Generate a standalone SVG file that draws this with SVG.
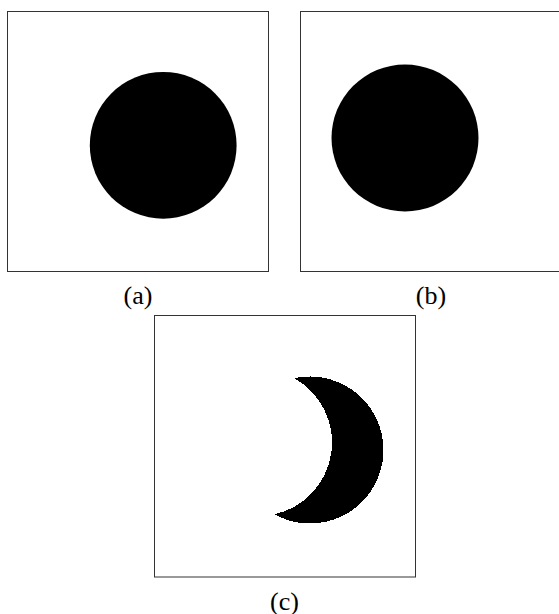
<svg xmlns="http://www.w3.org/2000/svg" width="559" height="614" viewBox="0 0 559 614">
<style>
.frame{fill:#fff;stroke:#333;stroke-width:1}
.blob{fill:#000}
.lbl{font-family:"Liberation Serif","Times New Roman",serif;font-size:26px;fill:#000;text-anchor:middle}
</style>
<rect width="559" height="614" fill="#fff"/>
<g id="panel-a">
<rect class="frame" x="7.5" y="11.5" width="261" height="260"/>
<circle class="blob" cx="163.2" cy="145.3" r="73.4"/>
<text class="lbl" x="138" y="303.5">(a)</text>
</g>
<g id="panel-b">
<rect class="frame" x="300.5" y="11.5" width="261" height="260"/>
<circle class="blob" cx="405" cy="138" r="73.5"/>
<text class="lbl" x="431" y="303.5">(b)</text>
</g>
<g id="panel-c">
<rect class="frame" x="154.5" y="315.5" width="261" height="261.5"/>
<path class="blob" shape-rendering="crispEdges" d="M294.16 378.22 A73.5 73.5 0 1 1 274.34 514.28 A73.5 73.5 0 0 0 294.16 378.22 Z"/>
<text class="lbl" x="284.5" y="609.5">(c)</text>
</g>
</svg>
